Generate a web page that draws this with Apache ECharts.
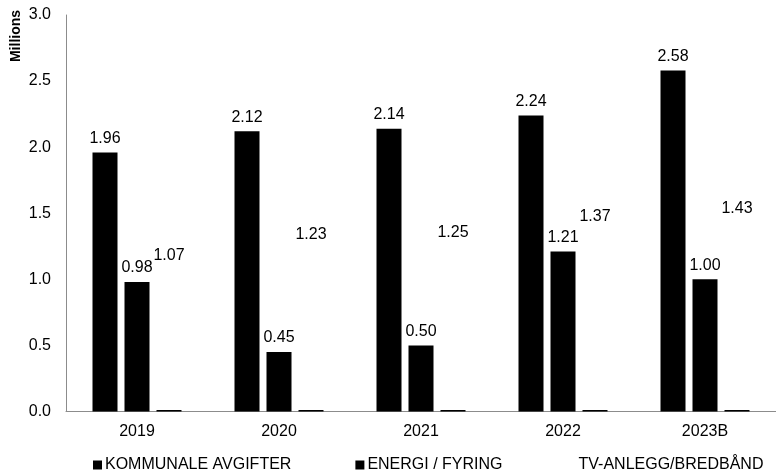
<!DOCTYPE html>
<html>
<head>
<meta charset="utf-8">
<script src="https://cdn.jsdelivr.net/npm/echarts@6/dist/echarts.min.js"></script>
<style>html,body{margin:0;padding:0;background:#fff}#c{width:776px;height:470px}</style>
</head>
<body>
<div id="c"></div>
<script>
const categories = ['2019', '2020', '2021', '2022', '2023B'];
const kommunale = [1.96, 2.12, 2.14, 2.24, 2.58];
const energi = [0.98, 0.45, 0.50, 1.21, 1.00];
const tvAnlegg = [1.07, 1.23, 1.25, 1.37, 1.43];
const seriesNames = ['KOMMUNALE AVGIFTER', 'ENERGI / FYRING', 'TV-ANLEGG/BREDBÅND'];
const yTicks = { min: 0, max: 3, interval: 0.5 };

const FONT = 'Liberation Sans, Arial, sans-serif';
const chart = echarts.init(document.getElementById('c'), null, { renderer: 'canvas' });
const lbl = {
  show: true, position: 'top', distance: 6, color: '#000',
  fontFamily: FONT, fontSize: 16,
  formatter: p => p.value.toFixed(2)
};
// white bar fill with a thin dark strip at its base (global gradient in pixels)
const baseY = 411.5;
const whiteWithBase = new echarts.graphic.LinearGradient(0, 0, 0, baseY, [
  { offset: 0, color: '#fff' },
  { offset: (baseY - 2) / baseY, color: '#fff' },
  { offset: (baseY - 1.9) / baseY, color: '#000' },
  { offset: 1, color: '#000' }
], true);
chart.setOption({
  animation: false,
  backgroundColor: '#fff',
  grid: { left: 66, right: -11, top: 15, bottom: 58.5, containLabel: false },
  legend: {
    left: 88, top: 452,
    itemWidth: 9, itemHeight: 9, itemGap: 64,
    textStyle: { fontFamily: FONT, fontSize: 16, color: '#000', padding: [0, 0, 0, -2] },
    data: [
      { name: seriesNames[0], icon: 'rect' },
      { name: seriesNames[1], icon: 'rect' },
      { name: seriesNames[2], icon: 'rect', itemStyle: { color: '#fff' } }
    ]
  },
  xAxis: {
    type: 'category', data: categories,
    axisLine: { lineStyle: { color: '#8c8c8c', width: 1 } },
    axisTick: { show: false },
    axisLabel: { fontFamily: FONT, fontSize: 16, color: '#000', margin: 12 }
  },
  yAxis: {
    type: 'value', min: yTicks.min, max: yTicks.max, interval: yTicks.interval,
    splitLine: { show: false },
    axisLine: { show: true, lineStyle: { color: '#8c8c8c', width: 1 } },
    axisTick: { show: false },
    axisLabel: { fontFamily: FONT, fontSize: 16, color: '#000', margin: 15, formatter: v => v.toFixed(1) }
  },
  graphic: [{
    type: 'text', x: 16, y: 36, rotation: Math.PI / 2,
    style: { text: 'Millions', font: 'bold 14px ' + FONT, fill: '#000', align: 'center', verticalAlign: 'middle' }
  }],
  series: [
    { name: seriesNames[0], type: 'bar', data: kommunale, barWidth: 25, barGap: '28%', itemStyle: { color: '#000' }, label: lbl },
    { name: seriesNames[1], type: 'bar', data: energi, barWidth: 25, barGap: '28%', itemStyle: { color: '#000' }, label: lbl },
    { name: seriesNames[2], type: 'bar', data: tvAnlegg, barWidth: 25, barGap: '28%',
      itemStyle: { color: whiteWithBase }, label: lbl }
  ]
});
</script>
</body>
</html>
